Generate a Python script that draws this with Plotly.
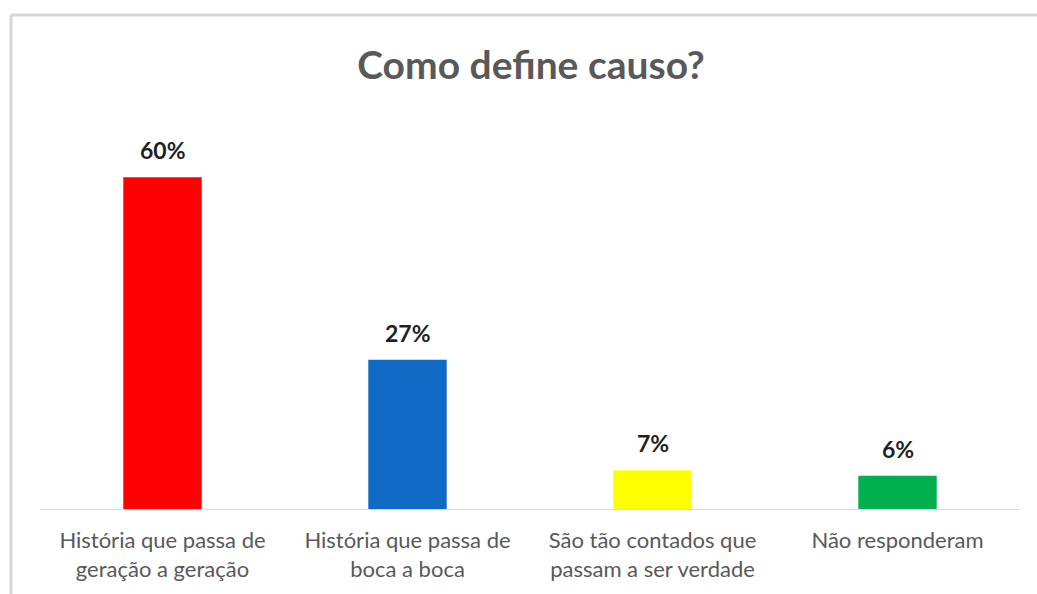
import plotly.graph_objects as go

categories = ["História que passa de<br>geração a geração",
              "História que passa de<br>boca a boca",
              "São tão contados que<br>passam a ser verdade",
              "Não responderam"]
values = [60, 27, 7, 6]
labels = ["60%", "27%", "7%", "6%"]
colors = ["#ff0000", "#0e6ac4", "#ffff00", "#00b04f"]

W, H = 1037, 594
ml, mr, mt, mb = 40, 17, 122, 85
pw, ph = W - ml - mr, H - mt - mb

def px_x(x):
    return (x - ml) / pw

def px_y(y):
    return (H - mb - y) / ph

fig = go.Figure()
fig.add_trace(go.Bar(x=categories, y=values, marker=dict(color=colors, line=dict(width=0)),
                     width=0.32, hoverinfo="skip"))

for c, v, t in zip(categories, values, labels):
    fig.add_annotation(x=c, y=v, text=t, showarrow=False, yanchor="bottom", yshift=11,
                       font=dict(family="Lato", size=23, color="#1f1f1f", weight="bold"))

border = "#d6d6d6"
fig.add_shape(type="line", xref="paper", yref="paper", x0=px_x(11), x1=px_x(1040),
              y0=px_y(15), y1=px_y(15), line=dict(color=border, width=3))
fig.add_shape(type="line", xref="paper", yref="paper", x0=px_x(11), x1=px_x(11),
              y0=px_y(15), y1=px_y(600), line=dict(color=border, width=3))

fig.update_layout(
    width=W, height=H,
    margin=dict(l=ml, r=mr, t=mt, b=mb),
    paper_bgcolor="white", plot_bgcolor="white",
    showlegend=False,
    title=dict(text="Como define causo?", x=531 / W, xanchor="center", y=1 - 65 / H, yanchor="middle",
               font=dict(family="Lato", size=39, color="#595959", weight="bold")),
    xaxis=dict(showline=True, linecolor="#d9d9d9", linewidth=1, showgrid=False,
               ticks="outside", ticklen=12, tickcolor="rgba(0,0,0,0)",
               tickfont=dict(family="Lato", size=22, color="#595959")),
    yaxis=dict(range=[0, 70], visible=False, showgrid=False),
)

fig.write_html("out.html")
